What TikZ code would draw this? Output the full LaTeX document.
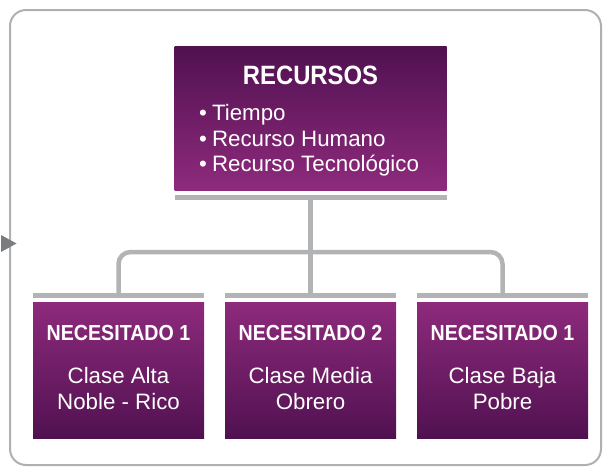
\documentclass[tikz,border=0pt]{standalone}
\usepackage{fontspec}
\setmainfont{Liberation Sans}
\newfontfamily\condfont[FakeStretch=0.9]{Liberation Sans}
\definecolor{pdark}{RGB}{80,17,80}
\definecolor{plight}{RGB}{142,42,124}
\definecolor{lgray}{RGB}{178,179,181}
\definecolor{fgray}{RGB}{176,176,178}
\definecolor{tgray}{RGB}{122,124,126}
\tikzset{
  topbox/.style={rectangle, inner sep=0pt, minimum width=272pt, minimum height=143.5pt, top color=pdark, bottom color=plight},
  botbox/.style={rectangle, inner sep=0pt, minimum width=171pt, minimum height=136.5pt, top color=plight, bottom color=pdark},
  barbox/.style={rectangle, inner sep=0pt, fill=lgray, minimum height=4.5pt},
  conn/.style={draw=lgray, line width=4.5pt, rounded corners=12pt},
  wtxt/.style={text=white, inner sep=0pt, font=\fontsize{22.3}{24}\selectfont},
  title/.style={text=white, inner sep=0pt, font=\condfont\bfseries\fontsize{21.8}{24}\selectfont},
}
\begin{document}
\begin{tikzpicture}[x=1pt,y=-1pt]
\useasboundingbox (0,0) rectangle (604,472);
% outer frame
\draw[fgray, line width=2pt, rounded corners=16pt] (10,10) rectangle (601,465);
\fill[tgray] (1,235) -- (16.5,243.5) -- (1,252) -- cycle;
% top box
\node[topbox] (rec) at (310.5,118.25) {};
\node[barbox, minimum width=272pt] (bar0) at (310.5,197.25) {};
\node[text=white, inner sep=0pt, anchor=base, font=\condfont\bfseries\fontsize{26.5}{28}\selectfont] (rectitle) at (310.5,84) {RECURSOS};
\node[wtxt, anchor=base west] (b1) at (199,120) {\textbullet\hspace{5pt}Tiempo};
\node[wtxt, anchor=base west] (b2) at (199,146) {\textbullet\hspace{5pt}Recurso Humano};
\node[wtxt, anchor=base west] (b3) at (199,171) {\textbullet\hspace{5pt}Recurso Tecnológico};
% bottom bars and boxes
\node[barbox, minimum width=171pt] (bar1) at (118.5,295.25) {};
\node[barbox, minimum width=171pt] (bar2) at (310.5,295.25) {};
\node[barbox, minimum width=171pt] (bar3) at (502.5,295.25) {};
\node[botbox] (n1) at (118.5,370.25) {};
\node[botbox] (n2) at (310.5,370.25) {};
\node[botbox] (n3) at (502.5,370.25) {};
\node[title, anchor=base] (t1) at (118.5,340) {NECESITADO 1};
\node[title, anchor=base] (t2) at (310.5,340) {NECESITADO 2};
\node[title, anchor=base] (t3) at (502.5,340) {NECESITADO 1};
\node[wtxt, anchor=base] (c1a) at (118.5,383) {Clase Alta};
\node[wtxt, anchor=base] (c1b) at (118.5,409) {Noble - Rico};
\node[wtxt, anchor=base] (c2a) at (310.5,383) {Clase Media};
\node[wtxt, anchor=base] (c2b) at (310.5,409) {Obrero};
\node[wtxt, anchor=base] (c3a) at (502.5,383) {Clase Baja};
\node[wtxt, anchor=base] (c3b) at (502.5,409) {Pobre};
% connectors
\coordinate (hub) at (310.5,252);
\draw[conn] (bar0.south) -- (hub);
\draw[conn] (bar1.north) |- (hub) -| (bar3.north);
\draw[conn] (hub) -- (bar2.north);
\end{tikzpicture}
\end{document}
